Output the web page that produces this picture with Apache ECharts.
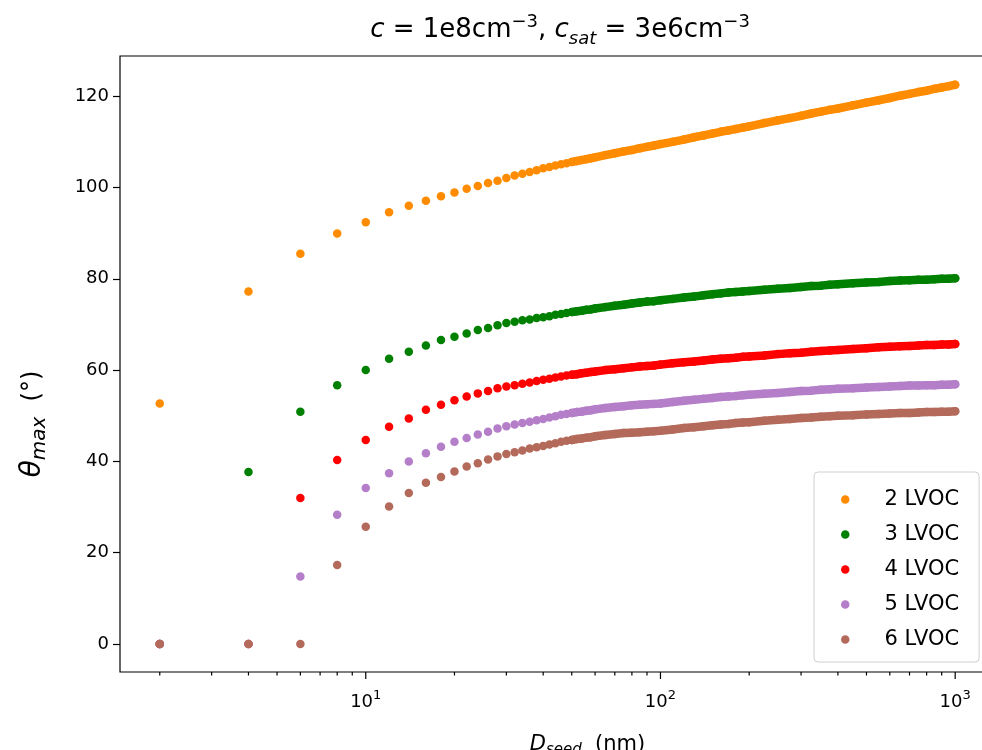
<!DOCTYPE html>
<html><head><meta charset="utf-8">
<script src="https://cdn.jsdelivr.net/npm/echarts@6/dist/echarts.min.js"></script>
<style>html,body{margin:0;padding:0;background:#fff}#c{width:982px;height:750px}</style>
</head><body><div id="c"></div>
<script>
// Seed diameter (nm)
const dseed = [2,4,6,8,10,12,14,16,18,20,22,24,26,28,30,32,34,36,38,40,42,44,46,48,50,52,54,56,58,60,
  65,70,75,80,85,90,95,100,
  110,120,130,140,150,160,170,180,190,200,
  225,250,275,300,325,350,375,400,
  450,500,550,600,650,700,750,800,850,900,950,1000];
// theta_max (deg) per number of LVOC
const lvoc2 = [52.7,77.2,85.5,89.9,92.4,94.6,96.0,97.1,98.1,98.9,99.7,100.3,101.0,101.5,102.1,102.6,103.0,103.4,103.8,104.2,104.5,104.8,105.1,105.3,105.6,105.8,106.0,106.2,106.4,106.6,
  107.1,107.5,107.9,108.2,108.6,108.9,109.2,109.5,
  110.0,110.5,111.0,111.4,111.8,112.2,112.5,112.8,113.1,113.4,
  114.1,114.7,115.2,115.7,116.2,116.6,117.0,117.3,
  118.0,118.6,119.1,119.6,120.1,120.5,120.9,121.2,121.6,121.9,122.2,122.5];
const lvoc3 = [0,37.7,50.9,56.7,60.0,62.5,64.0,65.4,66.6,67.3,68.0,68.8,69.2,69.8,70.3,70.6,70.9,71.1,71.4,71.6,71.8,72.1,72.3,72.5,72.7,72.9,73.0,73.2,73.3,73.5,
  73.8,74.1,74.3,74.6,74.8,75.0,75.1,75.3,
  75.6,75.9,76.1,76.4,76.6,76.8,77.0,77.1,77.2,77.3,
  77.6,77.8,78.0,78.2,78.4,78.5,78.7,78.8,
  79.0,79.2,79.3,79.5,79.6,79.7,79.8,79.8,79.9,80.0,80.0,80.1];
const lvoc4 = [0,0,32.0,40.3,44.7,47.6,49.4,51.3,52.4,53.4,54.2,54.9,55.4,56.0,56.4,56.7,57.0,57.3,57.6,57.9,58.1,58.4,58.6,58.8,59.0,59.1,59.3,59.4,59.6,59.7,
  60.0,60.2,60.4,60.6,60.8,60.9,61.0,61.2,
  61.5,61.7,61.9,62.1,62.3,62.5,62.6,62.7,62.9,63.0,
  63.2,63.5,63.7,63.8,64.0,64.2,64.3,64.4,
  64.6,64.8,65.0,65.1,65.2,65.3,65.4,65.5,65.5,65.6,65.6,65.7];
const lvoc5 = [0,0,14.8,28.3,34.2,37.4,40.0,41.8,43.2,44.3,45.1,45.9,46.5,47.2,47.7,48.1,48.4,48.7,49.0,49.3,49.6,49.9,50.2,50.4,50.6,50.8,50.9,51.1,51.2,51.4,
  51.7,51.9,52.1,52.3,52.4,52.5,52.6,52.7,
  53.0,53.3,53.5,53.7,53.9,54.1,54.2,54.3,54.5,54.6,
  54.8,55.0,55.2,55.4,55.5,55.7,55.8,55.9,
  56.0,56.2,56.3,56.4,56.5,56.6,56.6,56.7,56.7,56.8,56.8,56.9];
const lvoc6 = [0,0,0,17.3,25.7,30.1,33.1,35.3,36.6,37.8,38.9,39.6,40.4,41.1,41.6,42.0,42.4,42.8,43.1,43.4,43.7,44.0,44.3,44.5,44.7,44.9,45.0,45.2,45.3,45.5,
  45.8,46.0,46.2,46.3,46.4,46.5,46.6,46.7,
  47.0,47.3,47.5,47.7,47.9,48.1,48.2,48.4,48.5,48.6,
  48.9,49.1,49.3,49.5,49.6,49.8,49.9,50.0,
  50.1,50.3,50.4,50.5,50.6,50.6,50.7,50.8,50.8,50.9,50.9,51.0];
const seriesNames = ['2 LVOC','3 LVOC','4 LVOC','5 LVOC','6 LVOC'];
const yTicks = [0,20,40,60,80,100,120];
const xMajorTicks = [10,100,1000];
const xMinorTicks = [2,3,4,5,6,7,8,9,20,30,40,50,60,70,80,90,200,300,400,500,600,700,800,900];

const X_MIN = 1.466, X_MAX = 1365, Y_MIN = -6.13, Y_MAX = 128.8;
const colors = ['#ff8c00','#008000','#ff0000','#b47ec8','#b46a5a'];
const FONT = 'DejaVu Sans';
const DOT = 8.5;
const DENSE_FROM = 50;

const all = [lvoc2,lvoc3,lvoc4,lvoc5,lvoc6];
const series = [];
all.forEach((vals,k)=>{
  const pts = dseed.map((x,i)=>[x, vals[i]]);
  series.push({
    type:'line', name: seriesNames[k]+' band', data: pts.filter(p=>p[0]>=DENSE_FROM),
    showSymbol:false, symbol:'none', silent:true, z:2+k,
    lineStyle:{color:colors[k], width:DOT, cap:'round', join:'round'}
  });
  series.push({
    type:'scatter', name: seriesNames[k], data: pts, symbol:'circle', symbolSize:DOT,
    itemStyle:{color:colors[k], opacity:1}, z:2+k
  });
});
series.push({
  type:'custom', silent:true, clip:false, z:10,
  data: xMajorTicks.map(v=>[v,1]).concat(xMinorTicks.map(v=>[v,0])),
  renderItem:(params, api)=>{
    const p = api.coord([api.value(0), Y_MIN]);
    const len = api.value(1) ? 7 : 3.5;
    return {type:'line', shape:{x1:p[0], y1:p[1], x2:p[0], y2:p[1]+len},
            style:{stroke:'#000', lineWidth:1.2}};
  }
});

const chart = echarts.init(document.getElementById('c'));
chart.setOption({
  animation:false,
  backgroundColor:'#fff',
  title:{
    text:'{i|c}{n| = 1e8cm}{s|−3}{n|, }{i|c}{b|sat}{n| = 3e6cm}{s|−3}',
    left:555, top:8, textAlign:'center',
    textStyle:{fontWeight:'normal', rich:{
      n:{fontFamily:FONT, fontSize:26, fontWeight:'normal', color:'#000', lineHeight:35},
      i:{fontFamily:FONT, fontSize:26, fontStyle:'italic', fontWeight:'normal', color:'#000', lineHeight:35},
      s:{fontFamily:FONT, fontSize:18, fontWeight:'normal', color:'#000', verticalAlign:'top', lineHeight:18},
      b:{fontFamily:FONT, fontSize:18, fontStyle:'italic', fontWeight:'normal', color:'#000', verticalAlign:'bottom', lineHeight:18}
    }}
  },
  legend:{
    data:seriesNames, orient:'vertical', left:814, top:472, icon:'circle',
    itemWidth:DOT, itemHeight:DOT, itemGap:14, padding:[17,20,12,27],
    backgroundColor:'#fff', borderColor:'#d0d0d0', borderWidth:1, borderRadius:4,
    selectedMode:false,
    textStyle:{fontFamily:FONT, fontSize:21, color:'#000', lineHeight:20, padding:[0,0,0,30]}
  },
  grid:{left:120, top:56, width:875, height:616, show:true, borderColor:'#000', borderWidth:1.2,
        containLabel:false, outerBoundsMode:'none'},
  xAxis:{
    type:'log', logBase:10, min:X_MIN, max:X_MAX,
    axisLine:{show:false}, axisTick:{show:false}, splitLine:{show:false}, minorTick:{show:false},
    axisLabel:{
      showMinLabel:false, showMaxLabel:false, margin:17,
      formatter:(v)=>{ const l = Math.log10(v), e = Math.round(l);
        return Math.abs(l-e)<1e-6 ? '{b|10}{s|'+e+'}' : ''; },
      rich:{
        b:{fontFamily:FONT, fontSize:18, color:'#000', lineHeight:26},
        s:{fontFamily:FONT, fontSize:13, color:'#000', verticalAlign:'top', lineHeight:13}
      }
    },
    name:'{i|D}{b|seed}{n|  (nm)}', nameLocation:'middle', nameGap:60,
    nameTextStyle:{padding:[0,0,0,60], rich:{
      i:{fontFamily:FONT, fontSize:21, fontStyle:'italic', color:'#000', lineHeight:26},
      n:{fontFamily:FONT, fontSize:21, color:'#000', lineHeight:26},
      b:{fontFamily:FONT, fontSize:15, fontStyle:'italic', color:'#000', verticalAlign:'bottom', lineHeight:15}
    }}
  },
  yAxis:{
    type:'value', min:Y_MIN, max:Y_MAX,
    axisLine:{show:false}, splitLine:{show:false},
    axisTick:{show:true, inside:false, length:7, lineStyle:{color:'#000', width:1.2}, customValues:yTicks},
    axisLabel:{customValues:yTicks, fontFamily:FONT, fontSize:18, color:'#000', margin:11},
    name:'{i|θ}{b|max}{n|  (°)}', nameLocation:'middle', nameRotate:90, nameGap:70,
    nameTextStyle:{padding:[0,120,0,0], rich:{
      i:{fontFamily:FONT, fontSize:28, fontStyle:'italic', color:'#000', lineHeight:34},
      n:{fontFamily:FONT, fontSize:24, color:'#000', lineHeight:34},
      b:{fontFamily:FONT, fontSize:20, fontStyle:'italic', color:'#000', verticalAlign:'bottom', lineHeight:20}
    }}
  },
  series:series
});
</script></body></html>
